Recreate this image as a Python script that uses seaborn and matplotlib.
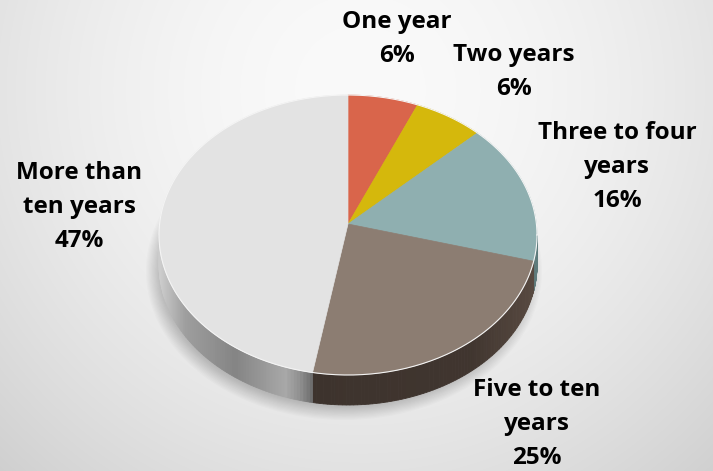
import numpy as np
import matplotlib
matplotlib.use("Agg")
import matplotlib.pyplot as plt
from matplotlib.patches import Polygon, Ellipse
from matplotlib.colors import to_rgb
import seaborn as sns

# Years of experience breakdown
categories = ["One year", "Two years", "Three to four\nyears", "Five to ten\nyears", "More than\nten years"]
shares = [6, 6, 16, 25, 47]
top_colors = ["#D9654B", "#D5B80C", "#8FAFB0", "#8C7D72", "#E3E3E3"]
side_colors = ["#9E4433", "#9A8508", "#5E7B7C", "#3D332D", "#8A8A8A"]

sns.set_theme(style="white")
plt.rcParams["font.family"] = ["Open Sans", "DejaVu Sans"]
palette = sns.color_palette(top_colors)

W, H = 713, 471
fig = plt.figure(figsize=(W / 100, H / 100), dpi=100)
ax = fig.add_axes([0, 0, 1, 1])
ax.set_xlim(0, W)
ax.set_ylim(H, 0)
ax.axis("off")

# radial grey backdrop
yy, xx = np.mgrid[0:H, 0:W]
d = np.hypot(xx - 360, yy - 90) / 520.0
v = np.clip(250 - 42 * d ** 1.8, 0, 255) / 255.0
bg = np.dstack([v, v, v])
ax.imshow(bg, extent=(0, W, H, 0), zorder=0, interpolation="bilinear")

# pie geometry (screen units)
cx, cy, rx, ry = 348.0, 235.0, 189.0, 140.0
apex = (348.0, 224.0)
depth = 30.0


def arc(t0, t1, n=120):
    t = np.radians(np.linspace(t0, t1, n))
    return cx + rx * np.cos(t), cy - ry * np.sin(t)


# soft drop shadow
for i in range(14):
    ax.add_patch(Ellipse((cx - 4, cy + depth + 6), 2 * rx + 18 - i * 2.4, 2 * ry + 18 - i * 2.4,
                         facecolor="black", alpha=0.015, edgecolor="none", zorder=1))

total = float(sum(shares))
bounds = []
start = 90.0
for s in shares:
    end = start - 360.0 * s / total
    bounds.append((start, end))
    start = end


def shade_more(x):
    # grey rim lighting across the front of the largest slice
    xs = [160, 185, 235, 285, 300, 312]
    vs = [0.80, 0.62, 0.52, 0.66, 0.56, 0.42]
    return np.interp(x, xs, vs)


# visible rim (lower half of the ellipse)
for i, (t0, t1) in enumerate(bounds):
    lo, hi = max(min(t0, t1), -180.0), min(max(t0, t1), 0.0)
    if hi <= lo:
        continue
    ts = np.linspace(hi, lo, 80)
    for a0, a1 in zip(ts[:-1], ts[1:]):
        x0, y0 = arc(a0, a0, 1)
        x1, y1 = arc(a1, a1, 1)
        xm = (x0[0] + x1[0]) / 2
        if i == 4:
            g = shade_more(xm)
            col = (g, g, g)
        elif i == 3:
            base = np.array(to_rgb(side_colors[i]))
            f = np.interp(xm, [310, 470, 535], [1.0, 1.05, 1.45])
            col = tuple(np.clip(base * f, 0, 1))
        else:
            col = side_colors[i]
        quad = [(x0[0], y0[0]), (x1[0], y1[0]), (x1[0], y1[0] + depth), (x0[0], y0[0] + depth)]
        ax.add_patch(Polygon(quad, closed=True, facecolor=col, edgecolor=col, lw=0.6, zorder=2))

# top faces
for i, (t0, t1) in enumerate(bounds):
    xs, ys = arc(t0, t1)
    pts = [apex] + list(zip(xs, ys))
    ax.add_patch(Polygon(pts, closed=True, facecolor=palette[i], edgecolor=palette[i],
                         lw=0.5, zorder=3))

# light rim on the top edge
xs, ys = arc(0, 360, 400)
ax.plot(xs, ys, color="#f4f4f4", lw=0.8, zorder=4)

# labels
label_pos = [(397, 39), (514, 72), (617, 167), (537, 424), (79, 207)]
for cat, s, (lx, ly) in zip(categories, shares, label_pos):
    ax.text(lx, ly, f"{cat}\n{s}%", ha="center", va="center", fontsize=17.5,
            fontweight="bold", color="black", linespacing=1.55, zorder=5)

fig.savefig("out.png", dpi=100)
